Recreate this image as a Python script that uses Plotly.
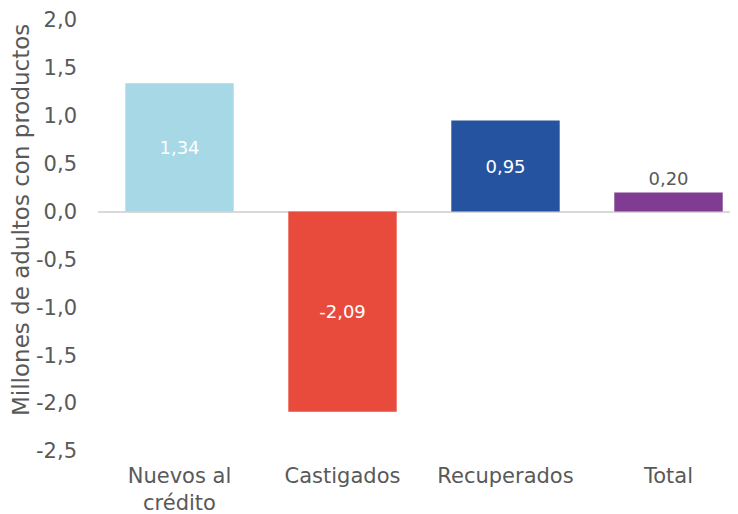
import plotly.graph_objects as go

categories = ["Nuevos al<br>crédito", "Castigados", "Recuperados", "Total"]
values = [1.34, -2.09, 0.95, 0.20]
colors = ["#A6D9E5", "#E84B3C", "#2553A0", "#803C92"]
text_pos = ["inside", "inside", "inside", "outside"]
y_ticks = [-2.5, -2.0, -1.5, -1.0, -0.5, 0.0, 0.5, 1.0, 1.5, 2.0]
y_ticktext = [f"{v:.1f}".replace(".", ",") for v in y_ticks]
y_title = "Millones de adultos con productos"

FONT = "DejaVu Sans"
GRAY = "#595959"

# page has an 8px body margin; figure is sized to fill the rest of the window
FW, FH = 730, 506
L, T, B = 90, 12, 63
W = FW - L
H = FH - T - B

fig = go.Figure(go.Bar(
    x=list(range(len(categories))),
    y=values,
    marker=dict(color=colors, line=dict(width=0)),
    width=0.665,
    texttemplate="%{y:.2f}",
    textposition=text_pos,
    insidetextanchor="middle",
    outsidetextfont=dict(color=GRAY, size=18, family=FONT),
    insidetextfont=dict(color="#FFFFFF", size=18, family=FONT),
    cliponaxis=False,
))

fig.update_layout(
    width=FW, height=FH,
    margin=dict(l=L, r=0, t=T, b=B),
    paper_bgcolor="white", plot_bgcolor="white",
    separators=",.",
    showlegend=False,
    font=dict(family=FONT, color=GRAY, size=20),
    xaxis=dict(
        range=[-0.5, -0.5 + W / 163.0],
        tickmode="array",
        tickvals=list(range(len(categories))),
        ticktext=categories,
        showgrid=False, zeroline=False, showline=False, ticks="",
        tickfont=dict(size=21, color=GRAY, family=FONT),
        ticklabelstandoff=10,
        automargin=False,
    ),
    yaxis=dict(
        range=[-2.5, 2.0],
        tickmode="array",
        tickvals=y_ticks,
        ticktext=y_ticktext,
        showgrid=False, showline=False, ticks="",
        zeroline=True, zerolinecolor="#D9D9D9", zerolinewidth=2,
        tickfont=dict(size=21, color=GRAY, family=FONT),
        ticklabelstandoff=20,
        automargin=False,
    ),
    annotations=[dict(
        text=y_title, textangle=-90,
        xref="paper", yref="paper",
        x=-(L - 13) / W, y=(H + T - 212) / H,
        xanchor="center", yanchor="middle",
        showarrow=False,
        font=dict(size=23, color=GRAY, family=FONT),
    )],
)

fig.write_html("out.html")
